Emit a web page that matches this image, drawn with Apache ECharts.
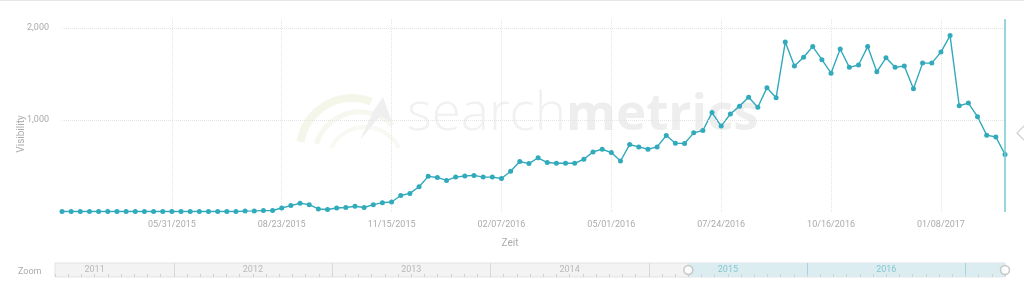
<!DOCTYPE html>
<html>
<head>
<meta charset="utf-8">
<script src="https://cdn.jsdelivr.net/npm/echarts@6/dist/echarts.min.js"></script>
<style>
html,body{margin:0;padding:0;background:#fff;}
#chart{width:1024px;height:291px;}
</style>
</head>
<body>
<div id="chart"></div>
<script>
// Weekly dates (categories)
const weeks = [
 '03/08/2015','03/15/2015','03/22/2015','03/29/2015','04/05/2015','04/12/2015','04/19/2015','04/26/2015','05/03/2015','05/10/2015','05/17/2015','05/24/2015',
 '05/31/2015','06/07/2015','06/14/2015','06/21/2015','06/28/2015','07/05/2015','07/12/2015','07/19/2015','07/26/2015','08/02/2015','08/09/2015','08/16/2015',
 '08/23/2015','08/30/2015','09/06/2015','09/13/2015','09/20/2015','09/27/2015','10/04/2015','10/11/2015','10/18/2015','10/25/2015','11/01/2015','11/08/2015',
 '11/15/2015','11/22/2015','11/29/2015','12/06/2015','12/13/2015','12/20/2015','12/27/2015','01/03/2016','01/10/2016','01/17/2016','01/24/2016','01/31/2016',
 '02/07/2016','02/14/2016','02/21/2016','02/28/2016','03/06/2016','03/13/2016','03/20/2016','03/27/2016','04/03/2016','04/10/2016','04/17/2016','04/24/2016',
 '05/01/2016','05/08/2016','05/15/2016','05/22/2016','05/29/2016','06/05/2016','06/12/2016','06/19/2016','06/26/2016','07/03/2016','07/10/2016','07/17/2016',
 '07/24/2016','07/31/2016','08/07/2016','08/14/2016','08/21/2016','08/28/2016','09/04/2016','09/11/2016','09/18/2016','09/25/2016','10/02/2016','10/09/2016',
 '10/16/2016','10/23/2016','10/30/2016','11/06/2016','11/13/2016','11/20/2016','11/27/2016','12/04/2016','12/11/2016','12/18/2016','12/25/2016','01/01/2017',
 '01/08/2017','01/15/2017','01/22/2017','01/29/2017','02/05/2017','02/12/2017','02/19/2017','02/26/2017'
];
// Visibility values
const visibility = [
 5,5,5,5,5,5,5,5,5,5,5,5,5,5,5,5,5,5,5,6,10,12,15,16,
 43,70,95,80,33,27,44,49,62,49,80,102,109,180,202,275,388,376,344,380,
 391,398,380,380,364,443,549,527,590,538,530,530,530,574,654,683,647,555,734,708,
 683,708,833,749,745,861,887,1082,935,1066,1152,1248,1140,1353,1244,1849,1588,1683,1800,1657,
 1510,1773,1574,1600,1800,1525,1678,1574,1588,1342,1620,1620,1740,1920,1156,1185,1037,836,816,627
];
const yTicks = [1000, 2000];
// Zoom bar months (overview timeline)
const months = [];
['2011','2012','2013','2014','2015','2016','2017'].forEach(y => {
  ['01','02','03','04','05','06','07','08','09','10','11','12'].forEach(m => months.push(y + '-' + m));
});
const zoomMonths = months.slice(3, 76); // 2011-04 .. 2017-04
const zoomWindow = ['2015-04', '2017-04'];

const TEAL = '#31aabb';
const GREY_TXT = '#ababab';
const FONT = 'Roboto, "Open Sans", sans-serif';

const chart = echarts.init(document.getElementById('chart'), null, {renderer: 'canvas'});
chart.setOption({
  animation: false,
  backgroundColor: '#fff',
  textStyle: {fontFamily: FONT},
  graphic: [
    {type: 'line', shape: {x1: 0, y1: 0.5, x2: 1024, y2: 0.5}, style: {stroke: '#e6e6e6', lineWidth: 1}, silent: true},
    // watermark logo
    {type: 'arc', shape: {cx: 352, cy: 150, r: 52, startAngle: Math.PI * 1.05, endAngle: Math.PI * 1.62}, style: {stroke: '#f4f6ea', lineWidth: 8, fill: null}, z: -1, silent: true},
    {type: 'arc', shape: {cx: 360, cy: 158, r: 46, startAngle: Math.PI * 1.1, endAngle: Math.PI * 1.75}, style: {stroke: '#f6f7ef', lineWidth: 5, fill: null}, z: -1, silent: true},
    {type: 'arc', shape: {cx: 365, cy: 165, r: 38, startAngle: Math.PI * 1.15, endAngle: Math.PI * 1.85}, style: {stroke: '#f8f9f2', lineWidth: 4, fill: null}, z: -1, silent: true},
    {type: 'polygon', shape: {points: [[383, 97], [392, 122], [380, 116], [360, 140], [374, 110]]}, style: {fill: '#efefef'}, z: -1, silent: true},
    {type: 'text', x: 407, y: 141, style: {text: 'search', fill: '#f1f1f1', font: '300 53px "Open Sans", sans-serif', textVerticalAlign: 'bottom'}, z: -1, silent: true},
    {type: 'text', x: 566, y: 141, style: {text: 'metrics', fill: '#eeeeee', font: 'bold 51px "Open Sans", sans-serif', textVerticalAlign: 'bottom'}, z: -1, silent: true},
    // axis titles
    {type: 'text', x: 21, y: 134, rotation: Math.PI / 2, style: {text: 'Visibility', fill: GREY_TXT, font: '10px ' + FONT, textAlign: 'center', textVerticalAlign: 'middle'}, silent: true},
    {type: 'text', x: 510, y: 243, style: {text: 'Zeit', fill: GREY_TXT, font: '10px ' + FONT, textAlign: 'center', textVerticalAlign: 'middle'}, silent: true},
    {type: 'text', x: 18, y: 272, style: {text: 'Zoom', fill: GREY_TXT, font: '9px ' + FONT, textAlign: 'left', textVerticalAlign: 'middle'}, silent: true},
    {type: 'polyline', shape: {points: [[1024, 126], [1017, 133], [1024, 140]]}, style: {stroke: '#cfcfcf', lineWidth: 1.2, fill: null}, silent: true}
  ],
  grid: [
    {left: 62, right: 19, top: 19, bottom: 79},
    {left: 55, right: 19, top: 263, height: 14, show: true, backgroundColor: '#f3f3f3', borderColor: '#e3e3e3', borderWidth: 1}
  ],
  xAxis: [
    {
      type: 'category', gridIndex: 0, data: weeks, boundaryGap: false,
      axisLine: {show: false}, axisTick: {show: false},
      axisLabel: {
        color: GREY_TXT, fontSize: 9, margin: 8,
        interval: (i) => i > 0 && i % 12 === 0
      },
      splitLine: {
        show: true, interval: (i) => i > 0 && i % 12 === 0,
        lineStyle: {color: '#e4e4e4', type: 'dotted', width: 1}
      }
    },
    {
      type: 'category', gridIndex: 1, data: zoomMonths, boundaryGap: false, z: 5,
      axisLine: {show: false},
      axisTick: {show: true, inside: true, length: 3, interval: 0, lineStyle: {color: '#d2d2d2'}},
      axisLabel: {
        show: true, inside: true, margin: 3, fontSize: 9,
        interval: (i, v) => v.slice(5) === '07',
        formatter: (v) => v.slice(0, 4),
        color: (v) => (v >= zoomWindow[0] ? '#86c7d2' : '#b8b8b8')
      },
      splitLine: {
        show: true, interval: (i, v) => v.slice(5) === '01',
        lineStyle: {color: ['#dadada', '#dadada', '#dadada', '#dadada', '#a6d4de', '#a6d4de'], width: 1}
      }
    }
  ],
  yAxis: [
    {
      type: 'value', gridIndex: 0, min: 0, max: 2100, interval: 1000,
      axisLine: {show: false}, axisTick: {show: false},
      splitLine: {show: false},
      axisLabel: {
        color: GREY_TXT, fontSize: 9, margin: 13,
        formatter: (v) => (yTicks.indexOf(v) >= 0 ? v.toLocaleString('en-US') : '')
      }
    },
    {type: 'value', gridIndex: 1, min: 0, max: 1, show: false}
  ],
  series: [
    {
      type: 'line', xAxisIndex: 0, yAxisIndex: 0, data: visibility,
      symbol: 'circle', symbolSize: 5, showAllSymbol: true,
      lineStyle: {color: TEAL, width: 1.4},
      itemStyle: {color: TEAL},
      markLine: {
        silent: true, symbol: 'none', label: {show: false}, animation: false,
        data: [
          {yAxis: yTicks[0], lineStyle: {color: '#e4e4e4', type: 'dotted', width: 1}},
          {yAxis: yTicks[1], lineStyle: {color: '#e4e4e4', type: 'dotted', width: 1}},
          {xAxis: weeks[weeks.length - 1], lineStyle: {color: '#74c9d5', type: 'solid', width: 1.5}}
        ]
      },
      z: 3
    },
    {
      type: 'line', xAxisIndex: 1, yAxisIndex: 1, data: [], silent: true,
      markArea: {
        silent: true,
        itemStyle: {color: '#dcedf1'},
        data: [[{xAxis: zoomWindow[0]}, {xAxis: zoomWindow[1]}]]
      },
      z: 1
    },
    {
      type: 'scatter', xAxisIndex: 1, yAxisIndex: 1, silent: true,
      data: [[zoomWindow[0], 0.5], [zoomWindow[1], 0.5]],
      symbol: 'circle', symbolSize: 9,
      itemStyle: {color: '#ffffff', borderColor: '#bdbdbd', borderWidth: 1.5},
      z: 6
    }
  ]
});
</script>
</body>
</html>
